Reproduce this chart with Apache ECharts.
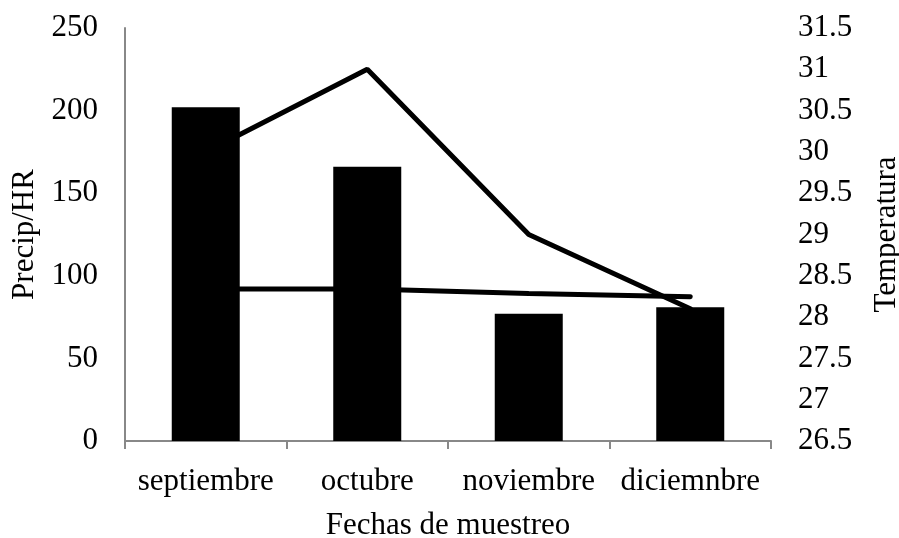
<!DOCTYPE html>
<html>
<head>
<meta charset="utf-8">
<script src="https://cdn.jsdelivr.net/npm/echarts@6/dist/echarts.min.js"></script>
<style>
html, body { margin: 0; padding: 0; background: #fff; }
#chart { width: 899px; height: 538px; }
</style>
</head>
<body>
<div id="chart"></div>
<script>
// datos
const meses = ['septiembre', 'octubre', 'noviembre', 'diciemnbre']
const precip = [202, 166, 77, 81]
const humedad = [92, 92, 89.3, 87.3]
const temperatura = [30.0, 31.0, 29.0, 28.1]

const fuente = 'Liberation Serif'
const tam = 31
const chart = echarts.init(document.getElementById('chart'))

const option = {
  backgroundColor: '#ffffff',
  animation: false,
  grid: {
    left: 125,
    right: 128,
    top: 28,
    bottom: 97,
    outerBoundsMode: 'none',
    containLabel: false
  },
  xAxis: {
    type: 'category',
    data: meses,
    name: 'Fechas de muestreo',
    nameLocation: 'middle',
    nameGap: 69,
    nameTextStyle: { color: '#000', fontFamily: fuente, fontSize: tam },
    axisLine: { lineStyle: { color: '#888', width: 2 } },
    axisTick: { show: true, length: 8, lineStyle: { color: '#888', width: 2 } },
    axisLabel: { color: '#000', fontFamily: fuente, fontSize: tam, margin: 25, interval: 0 }
  },
  yAxis: [
    {
      type: 'value',
      min: 0,
      max: 250,
      interval: 50,
      name: 'Precip/HR',
      nameLocation: 'middle',
      nameGap: 84,
      nameTextStyle: { color: '#000', fontFamily: fuente, fontSize: tam },
      axisLine: { show: true, lineStyle: { color: '#888', width: 2 } },
      axisTick: { show: false },
      splitLine: { show: false },
      axisLabel: { color: '#000', fontFamily: fuente, fontSize: tam, margin: 27 }
    },
    {
      type: 'value',
      min: 26.5,
      max: 31.5,
      interval: 0.5,
      name: 'Temperatura',
      nameLocation: 'middle',
      nameGap: 100,
      nameTextStyle: { color: '#000', fontFamily: fuente, fontSize: tam },
      axisLine: { show: false },
      axisTick: { show: false },
      splitLine: { show: false },
      axisLabel: { color: '#000', fontFamily: fuente, fontSize: tam, margin: 27 }
    }
  ],
  series: [
    {
      name: 'Precipitacion',
      type: 'bar',
      data: precip,
      barWidth: 68,
      z: 3,
      itemStyle: { color: '#000' }
    },
    {
      name: 'HR',
      type: 'line',
      data: humedad,
      yAxisIndex: 0,
      symbol: 'none',
      z: 2,
      lineStyle: { color: '#000', width: 5, cap: 'round' }
    },
    {
      name: 'Temperatura',
      type: 'line',
      data: temperatura,
      yAxisIndex: 1,
      symbol: 'none',
      z: 2,
      lineStyle: { color: '#000', width: 5, cap: 'round' }
    }
  ]
}
chart.setOption(option)
</script>
</body>
</html>
